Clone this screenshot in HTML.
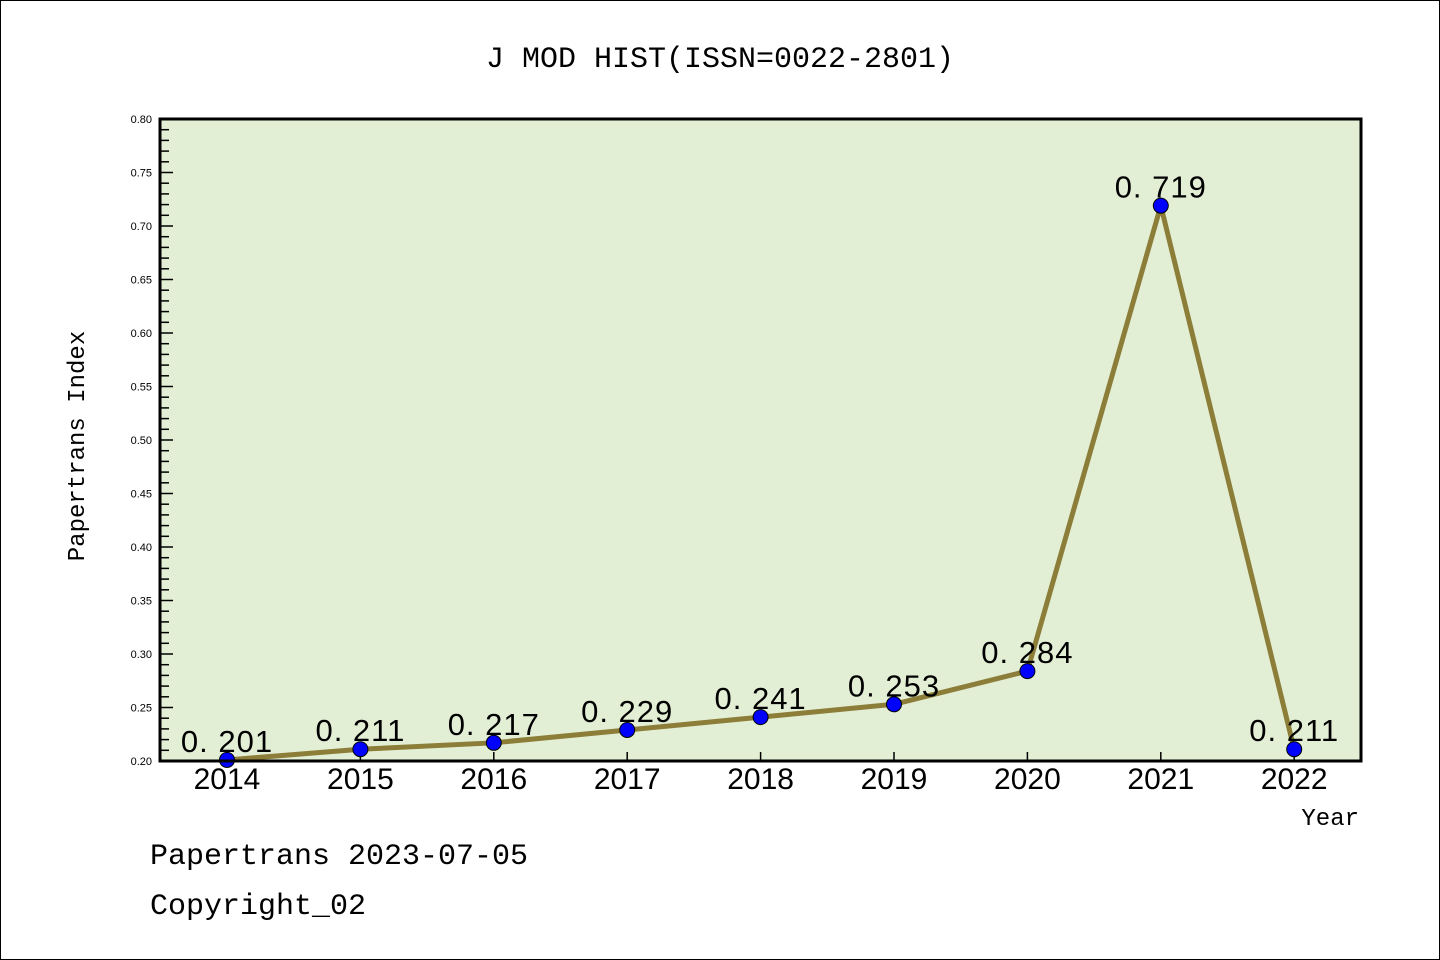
<!DOCTYPE html>
<html><head><meta charset="utf-8"><style>
body{margin:0;background:#fff}
svg{display:block}
text{font-family:"Liberation Sans","DejaVu Sans",sans-serif}
.m{font-family:"Liberation Mono","DejaVu Sans Mono",monospace}
</style></head><body>
<svg id="c" width="1440" height="960" viewBox="0 0 1440 960">
<rect x="0.5" y="0.5" width="1439" height="959" fill="#fff" stroke="#000"/>
<text x="720" y="67" text-anchor="middle" font-size="30" class="m">J MOD HIST(ISSN=0022-2801)</text>
<rect x="160" y="119" width="1201" height="642" fill="#e2efd5"/>
<g id="yt"></g><g id="xt"></g><g id="series"></g>
<rect x="160" y="119" width="1201" height="642" fill="none" stroke="#000" stroke-width="3"/>
<text transform="translate(84,446) rotate(-90)" text-anchor="middle" font-size="24" class="m">Papertrans Index</text>
<text x="1359" y="825" text-anchor="end" font-size="24" class="m">Year</text>
<text x="150" y="864" font-size="30" class="m">Papertrans 2023-07-05</text>
<text x="150" y="914" font-size="30" class="m">Copyright_02</text>
</svg>
<script>
const years=["2014","2015","2016","2017","2018","2019","2020","2021","2022"];
const values=[0.201,0.211,0.217,0.229,0.241,0.253,0.284,0.719,0.211];
const labels=["0.201","0.211","0.217","0.229","0.241","0.253","0.284","0.719","0.211"];
const yTicks=["0.20","0.25","0.30","0.35","0.40","0.45","0.50","0.55","0.60","0.65","0.70","0.75","0.80"];
const NS="http://www.w3.org/2000/svg";
const yMin=0.2,yMax=0.8,yTop=119,yBot=761,xLeft=160;
const X0=227,XS=133.4;
function yS(v){return yBot-(v-yMin)/(yMax-yMin)*(yBot-yTop);}
function xS(i){return X0+i*XS;}
function mk(t,a,p){const e=document.createElementNS(NS,t);for(const k in a)e.setAttribute(k,a[k]);p.appendChild(e);return e;}
const yt=document.getElementById('yt');
for(let k=0;k<=60;k++){const v=yMin+k*0.01;const y=yS(v);const maj=k%5===0;
const l=mk('line',{x1:xLeft,x2:xLeft+(maj?13:9),y1:y,y2:y,stroke:'#000','stroke-width':1.5},yt);

}
yTicks.forEach(s=>{const t=mk('text',{x:152,y:yS(parseFloat(s))+4,'text-anchor':'end','font-size':11},yt);t.textContent=s;

});
const xt=document.getElementById('xt');
years.forEach((s,i)=>{const l=mk('line',{x1:xS(i),x2:xS(i),y1:yBot,y2:yBot-9,stroke:'#000','stroke-width':1.5},xt);


const t=mk('text',{x:xS(i),y:789,'text-anchor':'middle','font-size':30},xt);t.textContent=s;

});
const g=document.getElementById('series');
const pl=mk('polyline',{points:values.map((v,i)=>xS(i)+','+yS(v)).join(' '),fill:'none',stroke:'#8c7d38','stroke-width':5,'stroke-linejoin':'round'},g);


values.forEach((v,i)=>{const c=mk('circle',{cx:xS(i),cy:yS(v),r:7.5,fill:'#0000ff',stroke:'#000','stroke-width':1},g);


const t=mk('text',{x:xS(i),y:yS(v)-8,'text-anchor':'middle','font-size':31,'letter-spacing':'1'},g);t.textContent=labels[i].replace('.','. ');

});
</script>
</body></html>
